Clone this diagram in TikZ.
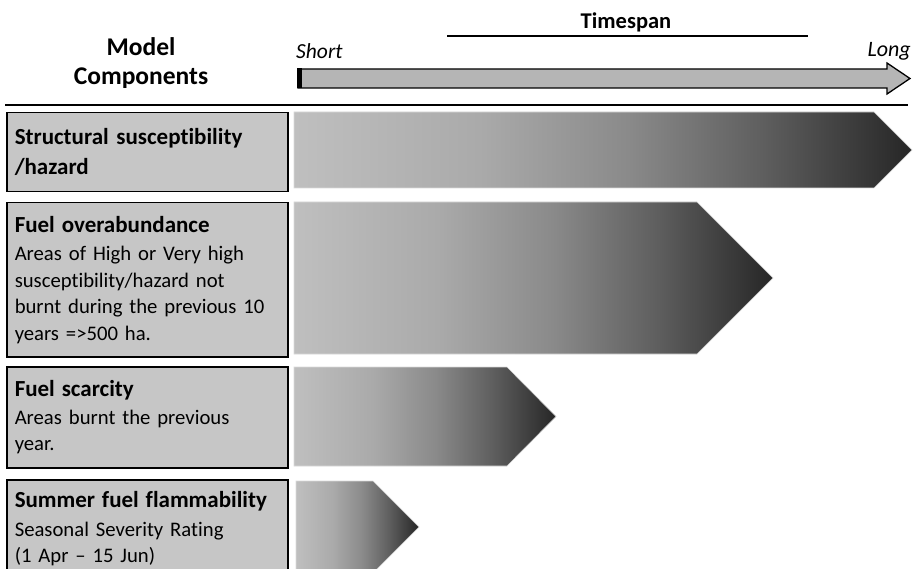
\documentclass[tikz,border=0pt]{standalone}
\usepackage{fontspec}
\setmainfont{Carlito}[Ligatures=NoCommon, WordSpace=0.88]
\usetikzlibrary{positioning}
\definecolor{boxgray}{HTML}{C6C6C6}
\definecolor{bargray}{HTML}{B5B5B5}
\definecolor{g1}{HTML}{BFBFBF}
\definecolor{g2}{HTML}{AAAAAA}
\definecolor{g3}{HTML}{8A8A8A}
\definecolor{g4}{HTML}{5E5E5E}
\definecolor{g5}{HTML}{262626}
\pgfdeclarehorizontalshading{fade}{100bp}{color(0bp)=(g1); color(25bp)=(g1); color(40bp)=(g2); color(52bp)=(g3); color(63bp)=(g4); color(75bp)=(g5); color(100bp)=(g5)}
\tikzset{
  compbox/.style={draw=black, line width=1.5pt, fill=boxgray, anchor=north west,
    minimum width=279pt, text width=265pt, inner xsep=8pt, inner ysep=0pt, align=left,
    font=\fontsize{20.7}{26.5}\selectfont},
  spanbar/.style={shading=fade, draw=white!85!black, line width=0.6pt},
  hdr/.style={font=\fontsize{25.5}{29}\selectfont\bfseries, align=center},
}
\newcommand{\headfont}{\fontsize{23}{26}\selectfont\bfseries}
\begin{document}
\begin{tikzpicture}[x=1pt,y=-1pt]
\useasboundingbox (0,0) rectangle (915,569);
\clip (0,0) rectangle (915,569);
% header
\node[hdr] (model) at (141,63) {Model\\Components};
\node[font=\fontsize{22.5}{24}\selectfont\bfseries] (timespan) at (626,22) {Timespan};
\coordinate (tl) at (447,36);
\coordinate (tr) at (808,36);
\draw[line width=1.3pt] (tl) -- (tr);
\node[font=\fontsize{21.5}{24}\selectfont\itshape, anchor=west, inner sep=0pt] (short) at (296,51) {Short};
\node[font=\fontsize{22}{24}\selectfont\itshape, anchor=east, inner sep=0pt] (long) at (911,51) {Long};
% timespan arrow
\draw[fill=bargray, line width=1.3pt, line join=miter]
  (298,69) -- (887,69) -- (887,63) -- (910,78.5) -- (887,94) -- (887,88) -- (298,88) -- cycle;
\fill[black] (297,68.5) rectangle (302,88.5);
% rule
\coordinate (rl) at (5,105);
\coordinate (rr) at (908,105);
\draw[line width=2.4pt] (rl) -- (rr);
% component boxes
\node[compbox, minimum height=79pt, font=\fontsize{23}{30}\selectfont\bfseries] (c1) at (6,112)
  {Structural susceptibility\\/hazard};
\node[compbox, minimum height=154pt] (c2) at (6,202)
  {{\headfont Fuel overabundance}\\[2pt]Areas of High or Very high\\susceptibility/hazard not\\burnt during the previous 10\\years =>500 ha.};
\node[compbox, minimum height=101pt] (c3) at (6,366)
  {{\headfont Fuel scarcity}\\[1pt]Areas burnt the previous\\year.};
\node[compbox, minimum height=98pt] (c4) at (6,479)
  {{\headfont Summer fuel flammability}\\[2pt]Seasonal Severity Rating\\(1 Apr -- 15 Jun)};
% timespan bars
\path[spanbar] (294,112) -- (874,112) -- (912,150) -- (874,188) -- (294,188) -- cycle;
\path[spanbar] (294,202) -- (697,202) -- (773,278) -- (697,354) -- (294,354) -- cycle;
\path[spanbar] (294,367) -- (507,367) -- (556,416.5) -- (507,466) -- (294,466) -- cycle;
\path[spanbar] (296,481) -- (373,481) -- (419,527) -- (373,573) -- (296,573) -- cycle;
\end{tikzpicture}
\end{document}
